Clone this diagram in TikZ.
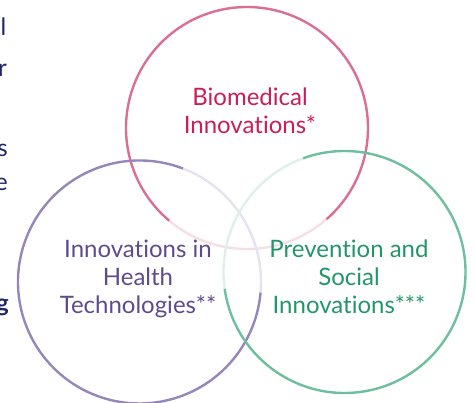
\documentclass[tikz,border=0pt]{standalone}
\usepackage{fontspec}
\setmainfont{Lato}[RawFeature=-liga]
\definecolor{pinkline}{RGB}{219,110,147}
\definecolor{pinkfade}{RGB}{246,222,230}
\definecolor{pinktext}{RGB}{200,30,90}
\definecolor{purpline}{RGB}{150,135,185}
\definecolor{purpfade}{RGB}{230,227,239}
\definecolor{purptext}{RGB}{95,75,140}
\definecolor{grnline}{RGB}{110,190,160}
\definecolor{grnfade}{RGB}{222,240,233}
\definecolor{grntext}{RGB}{35,150,105}
\definecolor{navy}{RGB}{30,40,100}
\tikzset{
  ring/.style={line width=2.4pt},
  label/.style={align=center, font=\fontsize{24}{28}\selectfont},
  edge/.style={font=\fontsize{24}{28}\selectfont, text=navy, anchor=base east, inner sep=0pt}
}
\begin{document}
\begin{tikzpicture}[x=1pt,y=1pt]
\useasboundingbox (0,0) rectangle (475,403);
\clip (0,0) rectangle (475,403);
\coordinate (cp) at (247,275);
\coordinate (cv) at (139.5,121);
\coordinate (cg) at (344.5,131);
% pink circle
\draw[ring,pinkfade] (cp) ++(230:121) arc[start angle=230,end angle=311,radius=121];
\draw[ring,pinkline] (cp) ++(311:121) arc[start angle=311,end angle=590,radius=121];
% purple circle
\draw[ring,purpfade] (cv) ++(-5:121.5) arc[start angle=-5,end angle=69,radius=121.5];
\draw[ring,purpline] (cv) ++(69:121.5) arc[start angle=69,end angle=355,radius=121.5];
% green circle
\draw[ring,grnfade] (cg) ++(110:121) arc[start angle=110,end angle=188,radius=121];
\draw[ring,grnline] (cg) ++(188:121) arc[start angle=188,end angle=470,radius=121];
% labels
\node[label,text=pinktext] (bio) at (250,292) {Biomedical\\Innovations*};
\node[label,text=purptext] (hth) at (138,124.5) {Innovations in\\Health\\Technologies**};
\node[label,text=grntext] (prev) at (349,126) {Prevention and\\Social\\Innovations***};
% clipped paragraph at left
\node[edge] (t1) at (6.5,367) {l};
\node[edge] (t2) at (7,326) {r};
\node[edge] (t3) at (8,246) {s};
\node[edge] (t4) at (8,212) {e};
\node[edge,font=\fontsize{24}{28}\selectfont\bfseries] (t5) at (9,91) {g};
\end{tikzpicture}
\end{document}
